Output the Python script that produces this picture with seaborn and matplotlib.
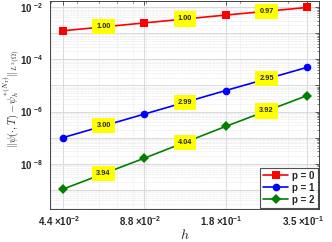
import numpy as np
import pandas as pd
import matplotlib
matplotlib.use("Agg")
import matplotlib.pyplot as plt
import matplotlib.ticker as mticker
import matplotlib.transforms as mtrans
import seaborn as sns

# ---- data ----
h_values = [0.0442, 0.0884, 0.1768, 0.3536]
x_tick_labels = ["4.4 ×10$^{-2}$", "8.8 ×10$^{-2}$", "1.8 ×10$^{-1}$", "3.5 ×10$^{-1}$"]
err_p0 = [1.23e-3, 2.46e-3, 4.92e-3, 9.6e-3]
err_p1 = [1.0e-7, 8.0e-7, 6.37e-6, 4.91e-5]
err_p2 = [1.07e-9, 1.64e-8, 2.70e-7, 4.09e-6]
rates_p0 = ["1.00", "1.00", "0.97"]
rates_p1 = ["3.00", "2.99", "2.95"]
rates_p2 = ["3.94", "4.04", "3.92"]
series_names = ["p = 0", "p = 1", "p = 2"]
y_major = [1e-2, 1e-4, 1e-6, 1e-8]
y_major_labels = ["10 $^{-2}$", "10 $^{-4}$", "10 $^{-6}$", "10 $^{-8}$"]

colors = ["#ff0000", "#0000ff", "#008000"]
markers = ["s", "o", "D"]

sns.set_style("white")
plt.rcParams["font.family"] = ["Liberation Sans", "DejaVu Sans"]
plt.rcParams["mathtext.fontset"] = "custom"
plt.rcParams["mathtext.rm"] = "Liberation Sans:bold"
plt.rcParams["mathtext.bf"] = "Liberation Sans:bold"
plt.rcParams["mathtext.it"] = "Liberation Sans:italic:bold"

rows = []
for name, errs in zip(series_names, [err_p0, err_p1, err_p2]):
    for h, e in zip(h_values, errs):
        rows.append({"h": h, "err": e, "p": name})
df = pd.DataFrame(rows)

fig = plt.figure(figsize=(3.32, 2.42), dpi=100)
ax = fig.add_axes([50 / 332, 33 / 242, 269 / 332, 208 / 242])

sns.lineplot(data=df, x="h", y="err", hue="p", style="p",
             palette=dict(zip(series_names, colors)),
             markers=dict(zip(series_names, markers)),
             dashes=False, markersize=5.5, linewidth=1.2,
             markeredgewidth=0, ax=ax)
ax.set_xscale("log")
ax.set_yscale("log")
ax.set_xlim(0.0396, 0.391)
ax.set_ylim(10 ** -9.73, 10 ** -1.77)

# grid
ax.set_axisbelow(True)
ax.grid(True, which="major", color="#d9d9d9", linewidth=0.7)
ax.grid(True, which="minor", color="#e2e2e2", linewidth=0.5, linestyle=(0, (1, 1)))

# ticks
ax.xaxis.set_major_locator(mticker.FixedLocator(h_values))
ax.xaxis.set_major_formatter(mticker.FixedFormatter(x_tick_labels))
ax.xaxis.set_minor_locator(mticker.LogLocator(base=10, subs=np.arange(2, 10)))
ax.xaxis.set_minor_formatter(mticker.NullFormatter())
ax.yaxis.set_major_locator(mticker.LogLocator(base=10, numticks=20))
ax.yaxis.set_minor_locator(mticker.LogLocator(base=10, subs=np.arange(2, 10), numticks=20))
ax.yaxis.set_minor_formatter(mticker.NullFormatter())

def yfmt(v, pos):
    for val, lab in zip(y_major, y_major_labels):
        if abs(np.log10(v) - np.log10(val)) < 1e-6:
            return lab
    return ""
ax.yaxis.set_major_formatter(mticker.FuncFormatter(yfmt))

ax.tick_params(which="both", direction="in", top=True, right=True, color="#262626")
ax.tick_params(which="major", length=3, width=0.5, labelsize=7)
ax.tick_params(axis="x", which="major", pad=4)
ax.tick_params(axis="y", which="major", pad=5)
ax.tick_params(which="minor", length=1.5, width=0.4)
for lab in ax.get_xticklabels() + ax.get_yticklabels():
    lab.set_fontweight("bold")
offset = mtrans.ScaledTranslation(-4 / 100, 0, fig.dpi_scale_trans)
for lab in ax.get_xticklabels():
    lab.set_transform(lab.get_transform() + offset)

for sp in ax.spines.values():
    sp.set_color("#262626")
    sp.set_linewidth(0.6)

ax.set_xlabel("$h$", fontsize=10, math_fontfamily="cm", labelpad=0)
ax.set_ylabel(r"$\|\psi(\cdot,T) - \psi_h^{*(N_T)}\|_{L^2(\Omega)}$",
              fontsize=7.4, math_fontfamily="cm")
ax.yaxis.set_label_coords(-28 / 269, 0.53)

# rate labels at geometric midpoints of segments
for errs, rates in zip([err_p0, err_p1, err_p2], [rates_p0, rates_p1, rates_p2]):
    for i, r in enumerate(rates):
        xm = np.sqrt(h_values[i] * h_values[i + 1])
        ym = np.sqrt(errs[i] * errs[i + 1])
        ax.text(xm, ym, r, ha="center", va="center", fontsize=5.3, fontweight="bold",
                bbox=dict(boxstyle="square,pad=0.55", facecolor="#ffff00", edgecolor="none"),
                zorder=5)

leg = ax.legend(loc="lower right", frameon=True, fancybox=False, fontsize=7,
                handlelength=2.6, borderpad=0.3, labelspacing=0.2,
                borderaxespad=0.15, handletextpad=0.4)
leg.get_frame().set_edgecolor("#262626")
leg.get_frame().set_linewidth(0.8)
for t in leg.get_texts():
    t.set_fontweight("bold")

fig.savefig("out.png", dpi=100)
